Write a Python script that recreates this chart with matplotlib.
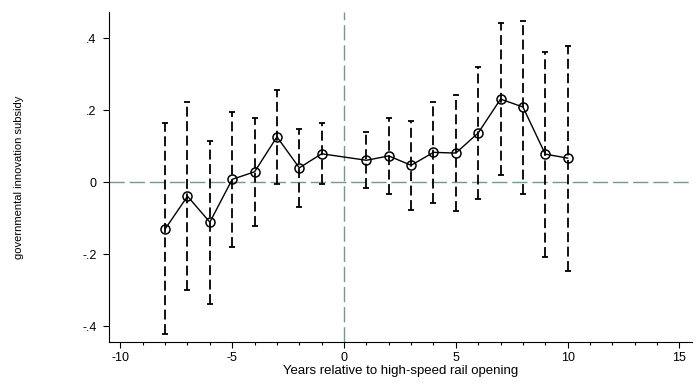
import numpy as np
import matplotlib
matplotlib.use("Agg")
import matplotlib.pyplot as plt

plt.rcParams['font.family'] = ['Liberation Sans', 'DejaVu Sans']
plt.rcParams['axes.unicode_minus'] = False

# event time and estimates (reference year 0 omitted)
years = [-8, -7, -6, -5, -4, -3, -2, -1, 1, 2, 3, 4, 5, 6, 7, 8, 9, 10]
coef = [-0.130, -0.039, -0.111, 0.008, 0.029, 0.126, 0.040, 0.079,
        0.061, 0.073, 0.047, 0.083, 0.081, 0.137, 0.231, 0.209, 0.078, 0.067]
ci_hi = [0.164, 0.223, 0.114, 0.196, 0.179, 0.256, 0.149, 0.164,
         0.140, 0.178, 0.170, 0.223, 0.243, 0.321, 0.442, 0.449, 0.362, 0.378]
ci_lo = [-0.422, -0.299, -0.338, -0.180, -0.121, -0.006, -0.069, -0.004,
         -0.017, -0.032, -0.078, -0.057, -0.080, -0.047, 0.019, -0.032, -0.209, -0.246]

ytick_vals = [-0.4, -0.2, 0, 0.2, 0.4]
ytick_labels = ["-.4", "-.2", "0", ".2", ".4"]
xtick_vals = [-10, -5, 0, 5, 10, 15]

fig = plt.figure(figsize=(7, 3.88), dpi=100)
ax = fig.add_axes([109 / 700, 1 - 342 / 388, (692 - 109) / 700, (342 - 12) / 388])

ref = "#73998e"
ax.axhline(0, color=ref, lw=1, ls=(0, (11, 3.5)), zorder=1)
ax.axvline(0, color=ref, lw=1, ls=(0, (11, 3.5)), zorder=1)

# confidence intervals: dashed vertical lines with flat caps
ax.vlines(years, ci_lo, ci_hi, color="black", lw=1.3, linestyles=(0, (5.5, 2.5)), zorder=2)
ax.plot(years, ci_hi, ls="none", marker="_", ms=5, mew=1.3, color="black", zorder=2)
ax.plot(years, ci_lo, ls="none", marker="_", ms=5, mew=1.3, color="black", zorder=2)

ax.plot(years, coef, color="black", lw=1, marker="o", ms=6.5, mfc="none",
        mec="black", mew=1.1, zorder=3)

ax.set_xlim(-10.51, 15.56)
ax.set_ylim(-0.444, 0.473)
ax.set_xticks(xtick_vals)
ax.set_xticks(range(-10, 16), minor=True)
ax.set_yticks(ytick_vals)
ax.set_yticklabels(ytick_labels)
ax.tick_params(axis="both", labelsize=9, length=4, width=0.8, direction="out")
ax.tick_params(axis="x", pad=3)
ax.tick_params(axis="y", pad=5)
ax.tick_params(axis="x", which="minor", length=2.5, width=0.8)
ax.tick_params(axis="y", which="minor", length=0)

ax.spines["top"].set_visible(False)
ax.spines["right"].set_visible(False)
ax.spines["left"].set_linewidth(0.8)
ax.spines["bottom"].set_linewidth(0.8)

ax.set_xlabel("Years relative to high-speed rail opening", fontsize=9.5, labelpad=1)
ax.set_ylabel("governmental innovation subsidy", fontsize=8, labelpad=42)

fig.savefig("out.png", dpi=100)
